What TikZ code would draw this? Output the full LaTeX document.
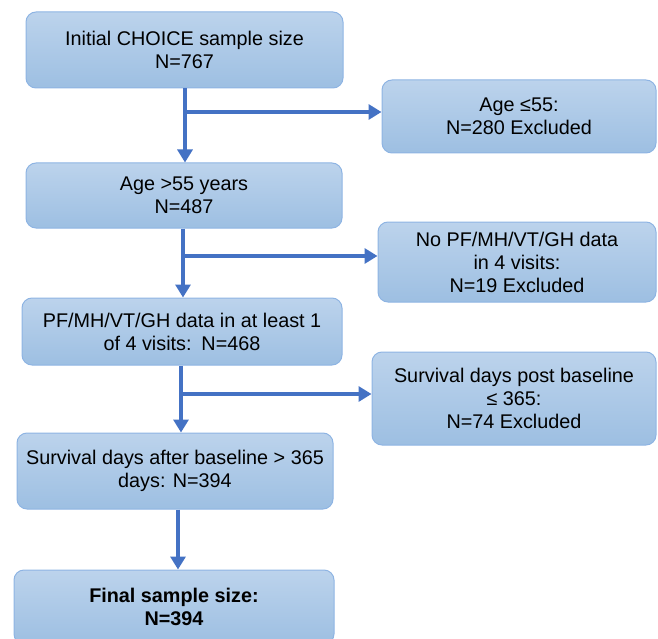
\documentclass[tikz,border=0pt]{standalone}
\usepackage{fontspec}
\setmainfont{Liberation Sans}
\usetikzlibrary{arrows.meta,calc}
\definecolor{boxtop}{HTML}{BCD3EC}
\definecolor{boxbot}{HTML}{9DBFE2}
\definecolor{boxline}{HTML}{8EB4E3}
\definecolor{arrowc}{HTML}{4472C4}
\begin{document}
\begin{tikzpicture}[x=1pt,y=-1pt,
  box/.style={draw=boxline,line width=1pt,rounded corners=10pt,top color=boxtop,bottom color=boxbot,
    align=center,inner sep=0pt,font=\fontsize{19.8}{23}\selectfont,anchor=center},
  flow/.style={draw=arrowc,line width=4pt,-{Triangle[width=15pt,length=13pt]}}]
\useasboundingbox (0,0) rectangle (658,639);
\begin{scope}
\clip (0,0) rectangle (658,639);
\node[box,minimum width=317pt,minimum height=76pt] (b1) at (184.5,50) {Initial CHOICE sample size\\N=767};
\node[box,minimum width=274pt,minimum height=73pt] (b2) at (519,116.5) {Age ≤55:\\N=280 Excluded};
\node[box,minimum width=316pt,minimum height=65pt] (b3) at (184,195.5) {Age >55 years\\N=487};
\node[box,minimum width=278pt,minimum height=80pt] (b4) at (517,262) {No PF/MH/VT/GH data\\in 4 visits:\\N=19 Excluded};
\node[box,minimum width=320pt,minimum height=67pt] (b5) at (182,331.5) {PF/MH/VT/GH data in at least 1\\of 4 visits:\enspace N=468};
\node[box,minimum width=284pt,minimum height=93pt] (b6) at (514,398.5) {Survival days post baseline\\≤ 365:\\N=74 Excluded};
\node[box,minimum width=316pt,minimum height=76pt] (b7) at (175,471) {Survival days after baseline > 365\\days: N=394};
\node[box,minimum width=320pt,minimum height=74pt,font=\fontsize{19.8}{23}\selectfont\bfseries] (b8) at (174,607) {Final sample size:\\N=394};
\end{scope}
\coordinate (j1) at (185,112);
\coordinate (j2) at (183,256);
\coordinate (j3) at (181,394);
\draw[flow] (b1.south -| j1) -- (b3.north -| j1);
\draw[flow] (j1) -- (j1 -| b2.west);
\draw[flow] (b3.south -| j2) -- (b5.north -| j2);
\draw[flow] (j2) -- (j2 -| b4.west);
\draw[flow] (b5.south -| j3) -- (b7.north -| j3);
\draw[flow] (j3) -- (j3 -| b6.west);
\draw[flow] (b7.south -| 178,0) -- (b8.north -| 178,0);
\end{tikzpicture}
\end{document}
